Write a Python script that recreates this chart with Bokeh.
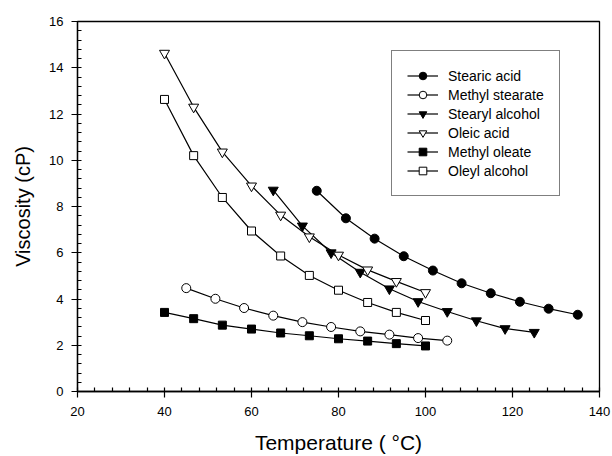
from bokeh.plotting import figure
from bokeh.models import Range1d, SingleIntervalTicker, Legend, LegendItem
from bokeh.embed import file_html
from bokeh.resources import INLINE

# Data
stearic_acid_T = [75, 81.7, 88.3, 95, 101.7, 108.3, 115, 121.7, 128.3, 135]
stearic_acid_v = [8.68, 7.49, 6.61, 5.85, 5.23, 4.68, 4.25, 3.88, 3.58, 3.32]

methyl_stearate_T = [45, 51.7, 58.3, 65, 71.7, 78.3, 85, 91.7, 98.3, 105]
methyl_stearate_v = [4.47, 4.01, 3.61, 3.28, 3.0, 2.79, 2.6, 2.46, 2.31, 2.2]

stearyl_alcohol_T = [65, 71.7, 78.3, 85, 91.7, 98.3, 105, 111.7, 118.3, 125]
stearyl_alcohol_v = [8.71, 7.16, 6.0, 5.16, 4.44, 3.89, 3.46, 3.06, 2.72, 2.56]

oleic_acid_T = [40, 46.7, 53.3, 60, 66.7, 73.3, 80, 86.7, 93.3, 100]
oleic_acid_v = [14.63, 12.3, 10.36, 8.89, 7.63, 6.69, 5.9, 5.26, 4.76, 4.28]

methyl_oleate_T = [40, 46.7, 53.3, 60, 66.7, 73.3, 80, 86.7, 93.3, 100]
methyl_oleate_v = [3.42, 3.15, 2.87, 2.7, 2.53, 2.41, 2.28, 2.18, 2.07, 1.97]

oleyl_alcohol_T = [40, 46.7, 53.3, 60, 66.7, 73.3, 80, 86.7, 93.3, 100]
oleyl_alcohol_v = [12.63, 10.2, 8.39, 6.94, 5.86, 5.02, 4.38, 3.85, 3.42, 3.07]

series = [
    ("Stearic acid", stearic_acid_T, stearic_acid_v, "circle", "black", 9),
    ("Methyl stearate", methyl_stearate_T, methyl_stearate_v, "circle", "white", 9),
    ("Stearyl alcohol", stearyl_alcohol_T, stearyl_alcohol_v, "inverted_triangle", "black", 10),
    ("Oleic acid", oleic_acid_T, oleic_acid_v, "inverted_triangle", "white", 10),
    ("Methyl oleate", methyl_oleate_T, methyl_oleate_v, "square", "black", 8),
    ("Oleyl alcohol", oleyl_alcohol_T, oleyl_alcohol_v, "square", "white", 8),
]

FONT = "Liberation Sans"

p = figure(width=612, height=456, output_backend="svg", toolbar_location=None,
           x_range=Range1d(20, 140), y_range=Range1d(0, 16),
           min_border_left=77, min_border_right=13, min_border_top=21,
           min_border_bottom=64)

p.xgrid.visible = False
p.ygrid.visible = False
p.outline_line_color = "black"
p.outline_line_width = 1.3
p.outline_line_alpha = 1

p.xaxis.ticker = SingleIntervalTicker(interval=20, num_minor_ticks=5)
p.yaxis.ticker = SingleIntervalTicker(interval=2, num_minor_ticks=5)
p.xaxis.axis_label = "Temperature ( °C)"
p.yaxis.axis_label = "Viscosity (cP)"

for ax in (p.xaxis[0], p.yaxis[0]):
    ax.major_tick_in = 0
    ax.major_tick_out = 6
    ax.minor_tick_in = 4
    ax.minor_tick_out = 0
    ax.axis_line_width = 1.3
    ax.axis_line_color = "black"
    ax.major_tick_line_color = "black"
    ax.minor_tick_line_color = "black"
    ax.major_tick_line_width = 1.2
    ax.minor_tick_line_width = 1.2
    ax.major_label_text_font = FONT
    ax.major_label_text_font_size = "13px"
    ax.major_label_text_color = "black"
    ax.axis_label_text_font = FONT
    ax.axis_label_text_font_size = "20px"
    ax.axis_label_text_font_style = "normal"
    ax.axis_label_text_color = "black"

p.xaxis.axis_label_text_font_size = "21px"
p.xaxis.major_label_standoff = 9
p.yaxis.major_label_standoff = 8
p.xaxis.axis_label_standoff = 12
p.yaxis.axis_label_standoff = 12

items = []
for name, xs, ys, marker, fill, size in series:
    ln = p.line(xs, ys, line_color="black", line_width=1.2)
    sc = p.scatter(xs, ys, marker=marker, size=size, fill_color=fill,
                   line_color="black", line_width=1)
    items.append(LegendItem(label=name, renderers=[ln, sc]))

legend = Legend(items=items, location=(314, 195), margin=0, padding=15,
                spacing=0, glyph_height=19, glyph_width=31, label_height=19,
                label_standoff=10, label_text_font=FONT,
                label_text_font_size="14px", label_text_color="black",
                border_line_color="black", border_line_width=1.2,
                background_fill_alpha=1)
p.add_layout(legend)

open("out.html", "w").write(file_html(p, INLINE))
